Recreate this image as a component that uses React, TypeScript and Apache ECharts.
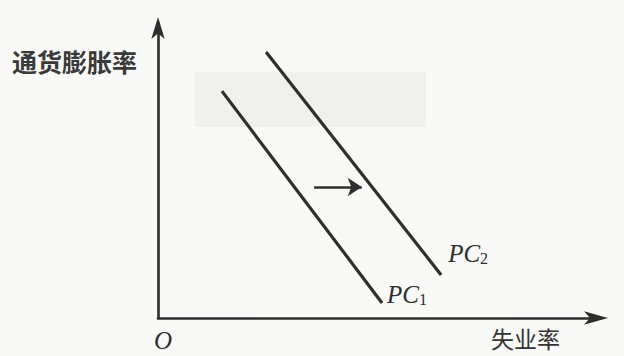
import React, { useEffect, useRef } from "react";
import * as echarts from "echarts";

// Curve endpoints in data units (x: unemployment, y: inflation), axes span 0..10
const pc1Points = [
  [1.45, 7.69],
  [5.08, 0.51],
];
const pc2Points = [
  [2.45, 9.02],
  [6.42, 1.46],
];
const shiftArrow = [
  [3.54, 4.44],
  [4.62, 4.44],
];
const curveNames = ["PC1", "PC2"];
const yAxisTitle = "通货膨胀率";
const xAxisTitle = "失业率";
const originLabel = "O";

const INK = "#2e2e2e";

export default function App() {
  const ref = useRef<HTMLDivElement>(null);
  useEffect(() => {
    if (!ref.current) return;
    const chart = echarts.init(ref.current, null, { renderer: "svg" });
    const pcLabel = (idx: string, offset: number[]) => ({
      show: true,
      position: "right",
      offset,
      formatter: `{a|PC}{b|${idx}}`,
      rich: {
        a: {
          fontFamily: "Liberation Serif",
          fontStyle: "italic",
          fontSize: 25,
          color: INK,
        },
        b: {
          fontFamily: "Liberation Serif",
          fontSize: 16,
          color: INK,
          verticalAlign: "bottom",
          padding: [10, 0, 0, 0],
        },
      },
    });
    const mkCurve = (name: string, pts: number[][], idx: string, offset: number[]) => ({
      type: "line",
      name,
      symbol: "none",
      lineStyle: { color: INK, width: 3.2 },
      data: pts.map((p, i) =>
        i === pts.length - 1
          ? { value: p, symbol: "circle", symbolSize: 0.1, label: pcLabel(idx, offset) }
          : { value: p }
      ),
      z: 3,
    });
    chart.setOption({
      animation: false,
      backgroundColor: "#f9f9f8",
      grid: { left: 158, right: 25, top: 23, bottom: 38 },
      xAxis: {
        type: "value",
        min: 0,
        max: 10,
        axisLine: {
          show: true,
          lineStyle: { color: INK, width: 2.6 },
          symbol: ["none", "arrow"],
          symbolSize: [10, 24],
          symbolOffset: [0, 9],
        },
        axisTick: { show: false },
        axisLabel: { show: false },
        splitLine: { show: false },
      },
      yAxis: {
        type: "value",
        min: 0,
        max: 10,
        axisLine: {
          show: true,
          lineStyle: { color: INK, width: 2.6 },
          symbol: ["none", "arrow"],
          symbolSize: [10, 22],
          symbolOffset: [0, 6],
        },
        axisTick: { show: false },
        axisLabel: { show: false },
        splitLine: { show: false },
      },
      graphic: [
        {
          type: "rect",
          shape: { x: 195, y: 72, width: 231, height: 55 },
          style: { fill: "#f0f0ee" },
          z: -10,
        },
        {
          type: "text",
          x: 12,
          y: 48,
          style: {
            text: yAxisTitle,
            fontFamily: "Noto Sans CJK SC",
            fontSize: 25,
            fontWeight: "bold",
            fill: "#3a3a3a",
          },
        },
        {
          type: "text",
          x: 491,
          y: 326,
          style: {
            text: xAxisTitle,
            fontFamily: "Noto Sans CJK SC",
            fontSize: 23,
            fill: "#333",
          },
        },
        {
          type: "text",
          x: 154,
          y: 328,
          style: {
            text: originLabel,
            fontFamily: "Liberation Serif",
            fontStyle: "italic",
            fontSize: 25,
            fill: INK,
          },
        },
      ],
      series: [
        mkCurve(curveNames[0], pc1Points, "1", [0, -8]),
        mkCurve(curveNames[1], pc2Points, "2", [2, -21]),
        {
          type: "lines",
          coordinateSystem: "cartesian2d",
          symbol: ["none", "arrow"],
          symbolSize: 14,
          lineStyle: { color: INK, width: 2.6, opacity: 1 },
          data: [{ coords: shiftArrow }],
          z: 3,
        },
      ],
    });
    return () => chart.dispose();
  }, []);
  return (
    <div
      ref={ref}
      style={{ position: "fixed", left: 0, top: 0, width: 624, height: 356 }}
    />
  );
}
